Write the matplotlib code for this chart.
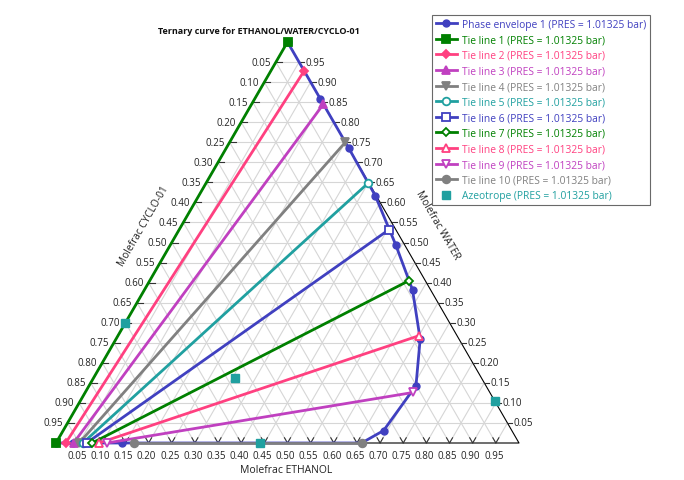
import numpy as np
import matplotlib
matplotlib.use("Agg")
import matplotlib.pyplot as plt
from matplotlib.lines import Line2D

plt.rcParams['font.family'] = ['Open Sans', 'DejaVu Sans']

# datos (fraccion molar ETHANOL y WATER, CYCLO = 1 - E - W)
env_eth = [0.0, 0.036, 0.143, 0.660, 0.692, 0.706, 0.657, 0.579, 0.486, 0.381, 0.265, 0.142, 0.0]
env_wat = [0.0, 0.0, 0.0, 0.0, 0.031, 0.143, 0.259, 0.382, 0.495, 0.617, 0.735, 0.858, 1.0]

tie_left_eth = [0.0, 0.021, 0.038, 0.050, 0.058, 0.066, 0.078, 0.093, 0.110, 0.168]
tie_left_wat = [0.0] * 10
tie_right_eth = [0.0, 0.072, 0.155, 0.250, 0.350, 0.453, 0.560, 0.651, 0.708, 0.660]
tie_right_wat = [1.0, 0.928, 0.845, 0.750, 0.648, 0.532, 0.405, 0.268, 0.126, 0.0]

azeo_eth = [0.0, 0.306, 0.440, 0.895]
azeo_wat = [0.300, 0.162, 0.0, 0.105]

ticks = [round(0.05 * i, 2) for i in range(1, 20)]

blue = '#4040C0'
green = '#008000'
pink = '#FF4080'
magenta = '#C040C0'
gray = '#808080'
teal = '#20A0A0'
tie_colors = [green, pink, magenta, gray, teal, blue, green, pink, magenta, gray]
tie_markers = ['s', 'D', '^', 'v', 'o', 's', 'D', '^', 'v', 'o']
tie_filled = [True, True, True, True, False, False, False, False, False, True]

S3 = np.sqrt(3) / 2
PX = 1 / 463.0  # un pixel en unidades del triangulo


def tern(e, w):
    e = np.asarray(e, dtype=float)
    w = np.asarray(w, dtype=float)
    return e + w / 2, w * S3


fig = plt.figure(figsize=(6.84, 4.81), dpi=100)
ax = fig.add_axes([0, 0, 1, 1])
ax.set_xlim(-56 * PX, 628 * PX)
ax.set_ylim(-37 * PX, 444 * PX)
ax.axis('off')

# rejilla
for k in ticks:
    for (e0, w0, e1, w1) in [(0, k, 1 - k, k), (k, 0, k, 1 - k), (1 - k, 0, 0, 1 - k)]:
        x, y = tern([e0, e1], [w0, w1])
        ax.plot(x, y, color='#D6D6D6', lw=0.8, zorder=1)

# borde
x, y = tern([0, 1, 0, 0], [0, 0, 1, 0])
ax.plot(x, y, color='black', lw=0.8, zorder=2)

# marcas y etiquetas de ejes
L = 6 * PX
for k in ticks:
    # abajo (ETHANOL)
    x, y = tern(k, 0)
    ax.plot([x - L * 0.5, x, x + L * 0.5], [L * S3, 0, L * S3], color='#333333', lw=0.8, zorder=2)
    ax.text(x - 2 * PX, -7 * PX, f"{k:.2f}", ha='center', va='top', fontsize=7, color='#222222')
    # derecha (WATER)
    x, y = tern(1 - k, k)
    ax.plot([x, x + 5 * PX], [y, y], color='#333333', lw=0.8, zorder=2)
    ax.text(x + 6.5 * PX, y, f"{k:.2f}", ha='left', va='center', fontsize=7, color='#222222')
    # izquierda (CYCLO-01)
    x, y = tern(0, 1 - k)
    ax.plot([x, x + L], [y, y], color='#333333', lw=0.8, zorder=2)
    ax.text(x - 5 * PX, y, f"{k:.2f}", ha='right', va='center', fontsize=7, color='#222222')

ax.text(230 * PX, -27 * PX, "Molefrac ETHANOL", ha='center', va='center', fontsize=7.5, color='#222222')
ax.text(382 * PX, 219 * PX, "Molefrac WATER", ha='center', va='center', fontsize=7.3,
        rotation=-60, color='#222222')
ax.text(88 * PX, 218 * PX, "Molefrac CYCLO-01", ha='center', va='center', fontsize=7.3,
        rotation=60, color='#222222')
ax.text(203 * PX, 412 * PX, "Ternary curve for ETHANOL/WATER/CYCLO-01", ha='center', va='center',
        fontsize=6.5, fontweight='bold', color='#111111')

handles = []
labels = []

x, y = tern(env_eth, env_wat)
ax.plot(x, y, color=blue, lw=2, marker='o', ms=5, zorder=3)
handles.append(Line2D([], [], color=blue, lw=2, marker='o', ms=5))
labels.append("Phase envelope 1 (PRES = 1.01325 bar)")

for i in range(10):
    x, y = tern([tie_left_eth[i], tie_right_eth[i]], [tie_left_wat[i], tie_right_wat[i]])
    c = tie_colors[i]
    fc = c if tie_filled[i] else 'white'
    kw = dict(color=c, lw=2, marker=tie_markers[i], ms=5.5 if tie_markers[i] != 'D' else 4.5,
              mfc=fc, mec=c, mew=1.3)
    ax.plot(x, y, zorder=4 + i * 0.1, **kw)
    handles.append(Line2D([], [], **kw))
    labels.append(f"Tie line {i + 1} (PRES = 1.01325 bar)")

x, y = tern(azeo_eth, azeo_wat)
ax.plot(x, y, ls='none', marker='s', ms=5.5, color=teal, zorder=6)
handles.append(Line2D([], [], ls='none', marker='s', ms=5.5, color=teal))
labels.append("Azeotrope (PRES = 1.01325 bar)")

leg = ax.legend(handles, labels, loc='upper left', bbox_to_anchor=(432 / 684, 1 - 16 / 481),
                fontsize=7.4, frameon=True, fancybox=False, borderpad=0.35, labelspacing=0.45,
                handlelength=2.1, handletextpad=0.5, borderaxespad=0)
leg.get_frame().set_edgecolor('#444444')
leg.get_frame().set_linewidth(0.8)
for t, h in zip(leg.get_texts(), handles):
    t.set_color(h.get_color())

fig.savefig("out.png", dpi=100)
